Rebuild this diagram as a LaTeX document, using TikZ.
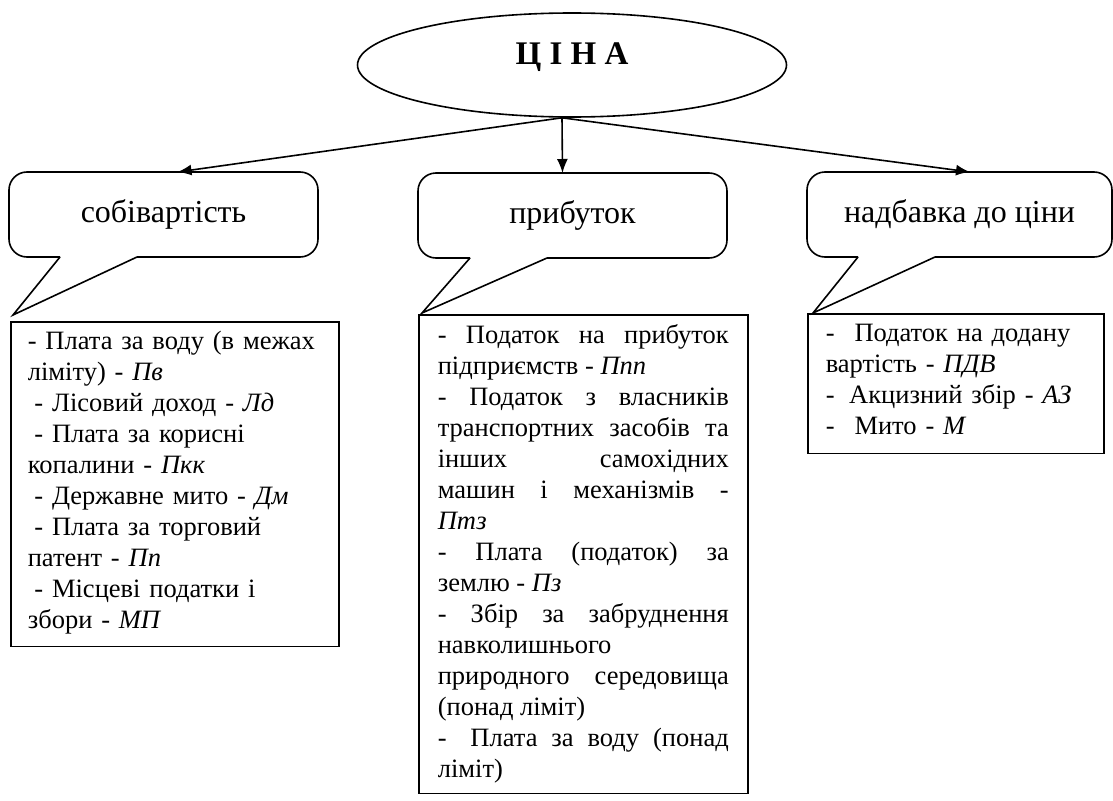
\documentclass[tikz,border=0pt]{standalone}
\usepackage{fontspec}
\setmainfont{Liberation Serif}
\usetikzlibrary{arrows.meta}
\usetikzlibrary{shapes}

\begin{document}
\begin{tikzpicture}[x=1pt,y=-1pt,line width=1.6pt,font=\fontsize{26.5}{31}\selectfont]
\useasboundingbox (0,0) rectangle (1113,800);
\node(A) at (572,65) [ellipse,draw=black,minimum width=429pt,minimum height=104pt]{};
\node(T) at (A.center) [anchor=base,font=\fontsize{33}{33}\selectfont\bfseries]{Ц І Н А};
\node(B) at (163.5,214.5) [rectangle,outer sep=0pt,minimum width=309pt,minimum height=85pt,font=\fontsize{32}{32}\selectfont]{собівартість};
\node(C) at (572.5,215.5) [rectangle,outer sep=0pt,minimum width=309pt,minimum height=85pt,font=\fontsize{32}{32}\selectfont]{прибуток};
\node(D) at (959.5,214.5) [rectangle,outer sep=0pt,minimum width=305pt,minimum height=85pt,font=\fontsize{32}{32}\selectfont]{надбавка до ціни};
\node(E) at (10,321) [rectangle,draw=black,anchor=north west,text width=294pt,inner xsep=17pt,inner ysep=9pt,align=left]{- Плата за воду (в межах\\ ліміту) - \textit{Пв}\\ \hspace*{0.25em}- Лісовий доход - \textit{Лд}\\ \hspace*{0.25em}- Плата за корисні\\ копалини - \textit{Пкк}\\ \hspace*{0.25em}- Державне мито - \textit{Дм}\\ \hspace*{0.25em}- Плата за торговий\\ патент - \textit{Пп}\\ \hspace*{0.25em}- Місцеві податки і\\ збори - \textit{МП}\strut};
\node(F) at (418,314) [rectangle,draw=black,anchor=north west,text width=291pt,inner xsep=19pt,inner ysep=10pt,align=justify]{\hbadness=10000 - Податок на прибуток\linebreak підприємств - \textit{Ппп}\par - Податок з власників\linebreak транспортних засобів та\linebreak інших самохідних\linebreak машин і механізмів -\linebreak \textit{Птз}\par - Плата (податок) за\linebreak землю - \textit{Пз}\par - Збір за забруднення\linebreak навколишнього\newline природного середовища\linebreak (понад ліміт)\par -\hspace{0.9em}Плата за воду (понад\linebreak ліміт)};
\node(G) at (807,313) [rectangle,draw=black,anchor=north west,text width=260pt,inner xsep=18pt,inner ysep=10pt,align=left]{-\hspace{0.75em}Податок на додану\\ вартість - \textit{ПДВ}\\ -\hspace{0.55em}Акцизний збір - \textit{АЗ}\\ -\hspace{0.75em}Мито - \textit{М}\strut};
% callout outlines
\draw[rounded corners=18pt] (60,257) -- (B.south west) -- (B.north west) -- (B.north east) -- (B.south east) -- (137,257);
\draw (60,257) -- (13,315) -- (137,257);
\draw[rounded corners=18pt] (470,258) -- (C.south west) -- (C.north west) -- (C.north east) -- (C.south east) -- (547,258);
\draw (470,258) -- (422,313) -- (547,258);
\draw[rounded corners=18pt] (858,257) -- (D.south west) -- (D.north west) -- (D.north east) -- (D.south east) -- (935,257);
\draw (858,257) -- (813,313) -- (935,257);
\draw[-{Latex[length=14pt,width=11pt]}] ([xshift=-10pt]A.south) -- ([xshift=14pt]B.north);
\draw[-{Latex[length=14pt,width=11pt]}] ([xshift=-10pt]A.south) -- ([xshift=-10pt]C.north);
\draw[-{Latex[length=14pt,width=11pt]}] ([xshift=-10pt]A.south) -- ([xshift=10.5pt]D.north);
\end{tikzpicture}
\end{document}
